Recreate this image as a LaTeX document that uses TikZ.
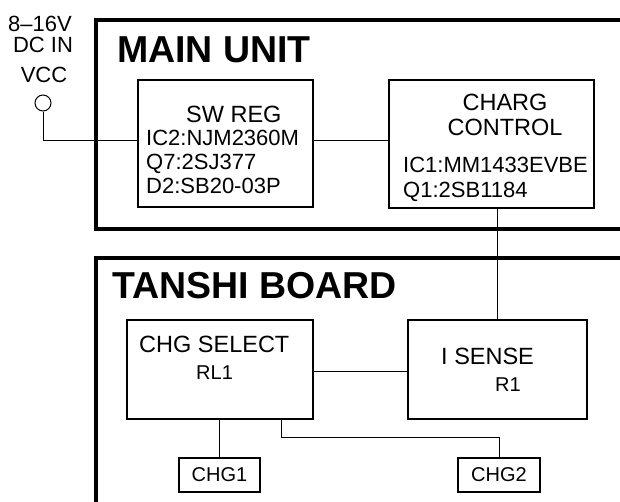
\documentclass[tikz,border=0pt]{standalone}
\usepackage{fontspec}
\setmainfont{Liberation Sans}
\begin{document}
\begin{tikzpicture}[x=1pt,y=-1pt,
  frame/.style={line width=3.6pt},
  blk/.style={draw,line width=2pt,inner sep=0,minimum width=#1},
  small/.style={draw,line width=1.5pt,inner sep=0,minimum width=#1,minimum height=34pt,font=\fontsize{20}{22}\selectfont},
  wire/.style={line width=1pt},
  txt/.style={inner sep=0,font=\fontsize{22}{24}\selectfont},
  btxt/.style={inner sep=0,font=\fontsize{23.5}{25}\selectfont},
  stxt/.style={inner sep=0,font=\fontsize{20}{22}\selectfont},
  title/.style={inner sep=0,font=\fontsize{37.5}{40}\selectfont\bfseries}]
\useasboundingbox (0,0) rectangle (620,501);
% frames
\draw[frame] (630,20) -- (96,20) -- (96,229) -- (630,229);
\draw[frame] (630,258) -- (96,258) -- (96,510);
% titles
\node[title,anchor=base west] (tmain) at (117,62) {MAIN UNIT};
\node[title,anchor=base west] (ttan) at (112,298) {TANSHI BOARD};
% input
\node[txt,anchor=base] (vin1) at (40,31) {8–16V};
\node[txt,anchor=base] (vin2) at (43,52) {DC IN};
\node[txt,anchor=base] (vin3) at (44,82) {VCC};
\node[draw,circle,line width=1pt,minimum size=16pt,inner sep=0] (vcc) at (43,103) {};
% blocks
\node[blk=175pt,minimum height=127pt] (swreg) at (225.5,143.5) {};
\node[blk=205pt,minimum height=128pt] (charg) at (491.5,144) {};
\node[blk=186pt,minimum height=99pt] (chgsel) at (220,369.5) {};
\node[blk=179pt,minimum height=99pt] (isense) at (497.5,369.5) {};
\node[small=81pt] (chg1) at (219.5,475) {CHG1};
\node[small=82pt] (chg2) at (499,475) {CHG2};
% block texts
\node[btxt,anchor=base west] (sw1) at (186,122) {SW REG};
\node[txt,anchor=base west] (sw2) at (146,145) {IC2:NJM2360M};
\node[txt,anchor=base west] (sw3) at (146,169) {Q7:2SJ377};
\node[txt,anchor=base west] (sw4) at (146,193) {D2:SB20-03P};
\node[btxt,anchor=base] (ch1) at (505,110) {CHARG};
\node[btxt,anchor=base] (ch2) at (505,135) {CONTROL};
\node[txt,anchor=base west] (ch3) at (403,172) {IC1:MM1433EVBE};
\node[txt,anchor=base west] (ch4) at (403,197) {Q1:2SB1184};
\node[btxt,anchor=base west] (cs1) at (139,352) {CHG SELECT};
\node[stxt,anchor=base west] (cs2) at (196,379) {RL1};
\node[btxt,anchor=base west] (is1) at (441,364) {I SENSE};
\node[stxt,anchor=base west] (is2) at (495,391) {R1};
% wires
\draw[wire] (vcc.south) |- ([yshift=3.5pt]swreg.west);
\draw[wire] ([yshift=3.5pt]swreg.east) -- ([yshift=3.5pt]swreg.east -| charg.west);
\draw[wire] (isense.north) -- (isense.north |- charg.south);
\draw[wire] ([yshift=-1.5pt]chgsel.east) -- ([yshift=-1.5pt]chgsel.east -| isense.west);
\draw[wire] (chg1.north) -- (chg1.north |- chgsel.south);
\coordinate (jog) at (281,437);
\draw[wire] (chgsel.south -| jog) -- (jog) -| (chg2.north);
\end{tikzpicture}
\end{document}
